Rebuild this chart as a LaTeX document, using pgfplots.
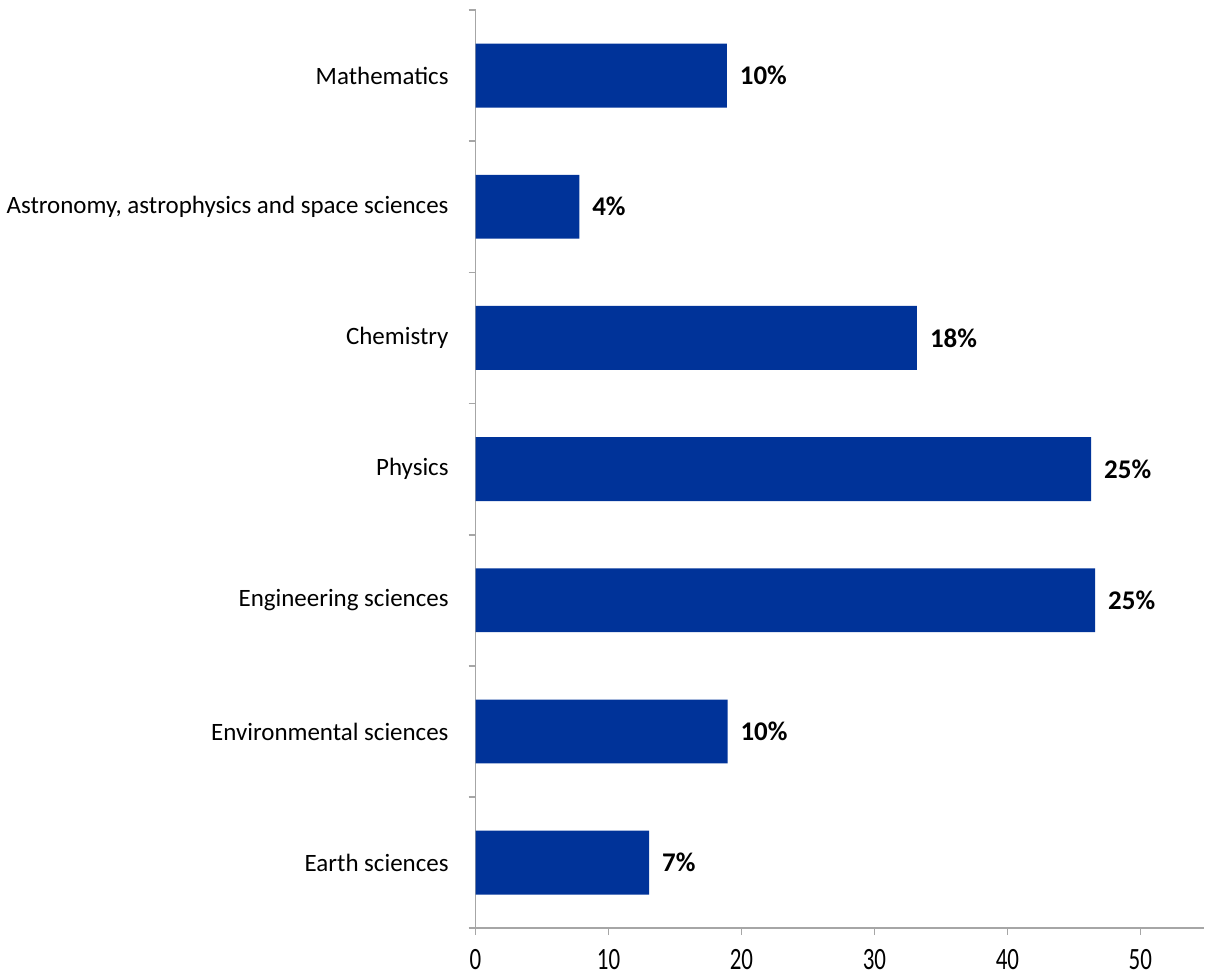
\documentclass[border=0pt]{standalone}
\usepackage{pgfplots}
\pgfplotsset{compat=1.18}
\usepackage{graphicx}
\usepackage{fontspec}
\setmainfont{Carlito}
\definecolor{barblue}{HTML}{003399}
\definecolor{axgray}{HTML}{A6A6A6}
\begin{document}
\begin{tikzpicture}
\begin{axis}[
  scale only axis,
  width=365pt, height=460pt,
  xbar, bar width=32pt, bar shift=0pt,
  xmin=0, xmax=54.8,
  ymin=0.5, ymax=7.5,
  axis x line*=bottom, axis y line*=left,
  axis line style={axgray, line width=0.8pt},
  xtick={0,10,20,30,40,50},
  xticklabel={\scalebox{1}[1.35]{\pgfmathprintnumber{\tick}}},
  ytick={0.5,1.5,...,7.5},
  yticklabels={},
  yticklabel style={inner sep=0pt},
  extra y ticks={1,...,7},
  extra y tick labels={Earth sciences, Environmental sciences, Engineering sciences, Physics, Chemistry, {Astronomy, astrophysics and space sciences}, {Mathematics\ }},
  extra y tick style={major tick length=0pt, yticklabel style={font=\fontsize{12.5}{14}\selectfont, inner sep=0.333em, xshift=-10pt}},
  major tick length=3.5pt,
  tick align=outside,
  every tick/.style={axgray, line width=0.8pt},
  xticklabel style={font=\fontsize{11.5}{14}\selectfont, inner sep=0pt, yshift=-7pt},
  /pgf/number format/assume math mode=true,
  nodes near coords={\textbf{\pgfplotspointmeta\%}},
  point meta=explicit symbolic,
  every node near coord/.append style={font=\fontsize{13.5}{15}\selectfont, anchor=west, xshift=3pt},
  clip=false,
]
\addplot[fill=barblue, draw=none] table[x=v, y=pos, meta=lab] {
pos v lab
1 13.05 7
2 18.95 10
3 46.6 25
4 46.3 25
5 33.2 18
6 7.8 4
7 18.9 10
};
\end{axis}
\path (current axis.south west) ++(0,-23.5pt);
\path (current axis.north west) ++(0,5pt);
\end{tikzpicture}
\end{document}
